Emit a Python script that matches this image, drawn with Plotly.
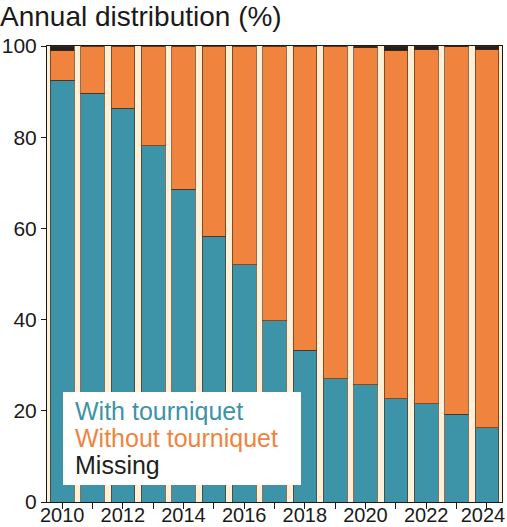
import plotly.graph_objects as go

years = list(range(2010, 2025))
with_tq = [92.5, 89.6, 86.3, 78.1, 68.6, 58.3, 52.0, 39.7, 33.3, 27.0, 25.7, 22.6, 21.6, 19.2, 16.3]
missing = [1.0, 0, 0, 0, 0, 0, 0, 0, 0, 0, 0.4, 1.0, 0.8, 0.2, 0.8]
without_tq = [round(100 - a - m, 1) for a, m in zip(with_tq, missing)]
label_years = [y for y in years if y % 2 == 0]
yticks = [0, 20, 40, 60, 80, 100]

TEAL = "#3D93A8"
ORANGE = "#F0843F"
DARK = "#231F20"
CREAM = "#FEF0D6"
FONT = "Liberation Sans"
outline = dict(color="rgba(70,45,25,0.65)", width=1)

fig = go.Figure()
fig.add_bar(x=years, y=with_tq, marker=dict(color=TEAL, line=outline), name="With tourniquet")
fig.add_bar(x=years, y=without_tq, marker=dict(color=ORANGE, line=outline), name="Without tourniquet")
fig.add_bar(x=years, y=missing, marker=dict(color=DARK, line=outline), name="Missing")

fig.update_layout(
    barmode="stack",
    bargap=0.22,
    width=507, height=527,
    margin=dict(l=47, r=5, t=46, b=25, autoexpand=False),
    paper_bgcolor="white",
    plot_bgcolor=CREAM,
    showlegend=False,
    font=dict(family=FONT, size=21, color="#1a1a1a"),
)
fig.update_xaxes(
    range=[2009.5, 2024.5], tickmode="array", tickvals=years, showticklabels=False,
    ticks="outside", ticklen=6, tickwidth=1, tickcolor="#1a1a1a",
    showline=True, linecolor="#1a1a1a", linewidth=1, mirror=True,
    showgrid=False, zeroline=False, automargin=False,
)
# label-only axis: last label nudged left to stay inside the page, as in the reference
label_pos = [y - 0.13 if y == label_years[-1] else y for y in label_years]
fig.update_layout(xaxis2=dict(
    overlaying="x", side="bottom", anchor="y", range=[2009.5, 2024.5],
    tickmode="array", tickvals=label_pos, ticktext=[str(y) for y in label_years],
    ticks="", showline=False, showgrid=False, zeroline=False,
    tickfont=dict(size=20, color="#1a1a1a"), automargin=False,
    ticklabeloverflow="allow", ticklabelstandoff=-1,
))
fig.add_scatter(x=[2010], y=[0], xaxis="x2", yaxis="y", mode="markers",
                marker=dict(opacity=0), hoverinfo="skip", showlegend=False)
fig.update_yaxes(
    range=[0, 100], tickmode="array", tickvals=yticks,
    ticks="outside", ticklen=5, tickwidth=1, tickcolor="#1a1a1a",
    showline=True, linecolor="#1a1a1a", linewidth=1, mirror=True,
    showgrid=False, zeroline=False, tickfont=dict(size=21),
    automargin=False, ticklabeloverflow="allow",
)

fig.add_annotation(text="Annual distribution (%)", xref="paper", yref="paper",
                   x=0, y=1, xanchor="left", yanchor="bottom", showarrow=False,
                   font=dict(size=28, color="#1a1a1a"), xshift=-49, yshift=12)

fig.add_shape(type="rect", xref="paper", yref="paper",
              x0=(63 - 47) / 455, x1=(301 - 47) / 455, y0=(502 - 485) / 456, y1=(502 - 392) / 456,
              fillcolor="white", line=dict(width=0), layer="above")
legend_items = [("With tourniquet", TEAL), ("Without tourniquet", ORANGE), ("Missing", DARK)]
for i, (txt, col) in enumerate(legend_items):
    fig.add_annotation(text=txt, xref="paper", yref="paper",
                       x=(73 - 47) / 455, y=(502 - (411 + 27 * i)) / 456,
                       xanchor="left", yanchor="middle", showarrow=False,
                       font=dict(size=25, color=col))

fig.write_html("out.html")
